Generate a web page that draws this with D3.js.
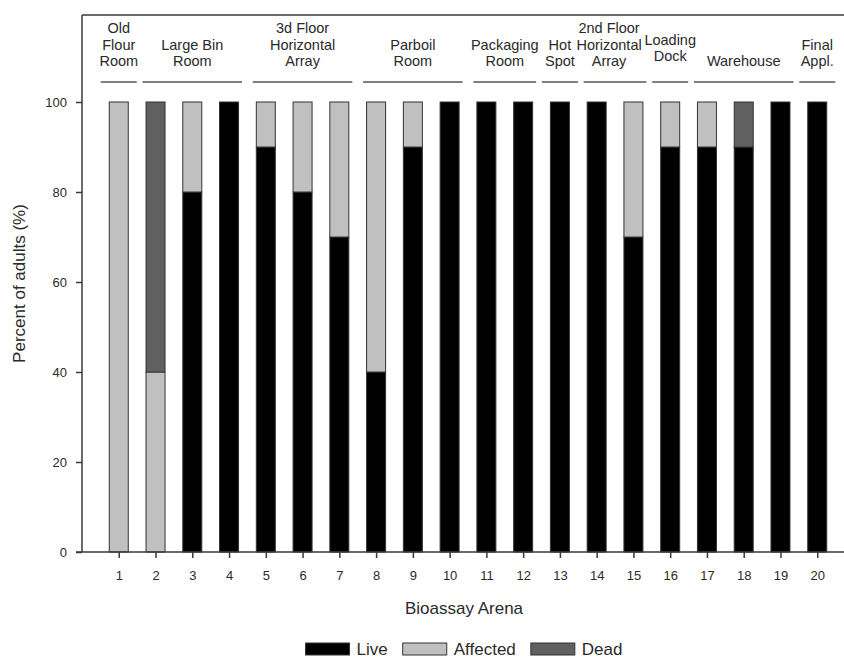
<!DOCTYPE html>
<html>
<head>
<meta charset="utf-8">
<script src="https://cdn.jsdelivr.net/npm/d3@7"></script>
<style>
  html, body { margin: 0; padding: 0; background: #fff; }
  svg { display: block; font-family: "Liberation Sans", Arial, sans-serif; }
</style>
</head>
<body>
<svg id="chart" width="844" height="660"></svg>
<script>
// Bioassay arenas and the percent of adults in each outcome class
const arenas   = [1, 2, 3, 4, 5, 6, 7, 8, 9, 10, 11, 12, 13, 14, 15, 16, 17, 18, 19, 20];
const live     = [0, 0, 80, 100, 90, 80, 70, 40, 90, 100, 100, 100, 100, 100, 70, 90, 90, 90, 100, 100];
const affected = [100, 40, 20, 0, 10, 20, 30, 60, 10, 0, 0, 0, 0, 0, 30, 10, 10, 0, 0, 0];
const dead     = [0, 60, 0, 0, 0, 0, 0, 0, 0, 0, 0, 0, 0, 0, 0, 0, 0, 10, 0, 0];

const seriesNames  = ["Live", "Affected", "Dead"];
const seriesColors = ["#000000", "#c0c0c0", "#606060"];
const yTicks = [0, 20, 40, 60, 80, 100];

// Locations in the mill, each covering a run of arenas
const groupNames = [
  ["Old", "Flour", "Room"],
  ["Large Bin", "Room"],
  ["3d Floor", "Horizontal", "Array"],
  ["Parboil", "Room"],
  ["Packaging", "Room"],
  ["Hot", "Spot"],
  ["2nd Floor", "Horizontal", "Array"],
  ["Loading", "Dock"],
  ["Warehouse"],
  ["Final", "Appl."]
];
const groupFirst = [1, 2, 5, 8, 11, 13, 14, 16, 17, 20];
const groupLast  = [1, 4, 7, 10, 12, 13, 15, 16, 19, 20];

const rows = arenas.map((a, i) => ({ arena: a, Live: live[i], Affected: affected[i], Dead: dead[i] }));

(function draw() {
  const svg = d3.select("#chart");
  const W = 844;
  const mLeft = 82, mRight = 854, frameTop = 15, plotTop = 102, plotBottom = 552;
  const axisColor = "#3a3a3a";
  const textColor = "#2a2a2a";

  const x = d3.scaleLinear().domain([0, 21]).range([mLeft, mRight]);
  const y = d3.scaleLinear().domain([0, 100]).range([plotBottom, plotTop]);
  const color = d3.scaleOrdinal().domain(seriesNames).range(seriesColors);
  const barW = 19;

  // Stacked bars
  const stacked = d3.stack().keys(seriesNames)(rows);
  svg.append("g").selectAll("g")
    .data(stacked)
    .join("g")
      .attr("fill", d => color(d.key))
    .selectAll("rect")
    .data(d => d.filter(s => s[1] - s[0] > 0))
    .join("rect")
      .attr("x", d => x(d.data.arena) - barW / 2)
      .attr("y", d => y(d[1]))
      .attr("width", barW)
      .attr("height", d => y(d[0]) - y(d[1]))
      .attr("stroke", "#333")
      .attr("stroke-width", 1);

  // Frame: left axis line, top border, bottom axis line
  svg.append("line")
    .attr("x1", mLeft).attr("x2", mLeft)
    .attr("y1", frameTop).attr("y2", plotBottom)
    .attr("stroke", axisColor).attr("stroke-width", 1.5);
  svg.append("line")
    .attr("x1", mLeft).attr("x2", W)
    .attr("y1", frameTop).attr("y2", frameTop)
    .attr("stroke", axisColor).attr("stroke-width", 1.5);
  svg.append("line")
    .attr("x1", mLeft - 6).attr("x2", W)
    .attr("y1", plotBottom).attr("y2", plotBottom)
    .attr("stroke", axisColor).attr("stroke-width", 1.5);

  // Y axis
  const yAxis = svg.append("g")
    .attr("transform", `translate(${mLeft},0)`)
    .call(d3.axisLeft(y).tickValues(yTicks).tickSize(6).tickPadding(9).tickSizeOuter(0));
  yAxis.select(".domain").remove();
  yAxis.selectAll(".tick line").attr("stroke", axisColor).attr("stroke-width", 1.5);
  yAxis.selectAll(".tick text")
    .attr("fill", textColor)
    .style("font-size", "13px")
    .style("font-family", "'Liberation Sans', Arial, sans-serif");

  // X axis
  const xAxis = svg.append("g")
    .attr("transform", `translate(0,${plotBottom})`)
    .call(d3.axisBottom(x).tickValues(arenas).tickSize(6).tickPadding(13).tickSizeOuter(0));
  xAxis.select(".domain").remove();
  xAxis.selectAll(".tick line").attr("stroke", axisColor).attr("stroke-width", 1.5);
  xAxis.selectAll(".tick text")
    .attr("fill", textColor)
    .style("font-size", "13px")
    .style("font-family", "'Liberation Sans', Arial, sans-serif");

  // Axis titles
  svg.append("text")
    .attr("x", 464).attr("y", 614)
    .attr("text-anchor", "middle")
    .attr("fill", textColor)
    .style("font-size", "17px")
    .text("Bioassay Arena");

  // Y title is centred on the full height of the left axis line
  svg.append("text")
    .attr("transform", `translate(25,${(frameTop + plotBottom) / 2}) rotate(-90)`)
    .attr("text-anchor", "middle")
    .attr("fill", textColor)
    .style("font-size", "17px")
    .text("Percent of adults (%)");

  // Location labels above the bars, each with an underline spanning its arenas
  const lineY = 82, lastBaseline = 66, lineH = 16.5;
  // small nudges so neighbouring labels do not collide
  const nudgeX = { "2nd Floor": -6 };
  const nudgeY = { "Loading": -5 };
  const groupsG = svg.append("g");
  groupNames.forEach((lines, i) => {
    const x0 = x(groupFirst[i]), x1 = x(groupLast[i]);
    const cx = (x0 + x1) / 2;
    const half = Math.max((x1 - x0) / 2 + 13, 18);
    groupsG.append("line")
      .attr("x1", cx - half).attr("x2", cx + half)
      .attr("y1", lineY).attr("y2", lineY)
      .attr("stroke", "#555").attr("stroke-width", 1.5);
    const tx = cx + (nudgeX[lines[0]] || 0);
    const ty = lastBaseline + (nudgeY[lines[0]] || 0);
    const t = groupsG.append("text")
      .attr("text-anchor", "middle")
      .attr("fill", textColor)
      .style("font-size", "14.5px");
    lines.forEach((s, k) => {
      t.append("tspan")
        .attr("x", tx)
        .attr("y", ty - (lines.length - 1 - k) * lineH)
        .text(s);
    });
  });

  // Legend
  const legend = svg.append("g");
  const swW = 44, swH = 12, legY = 655;
  let cursor = 0;
  seriesNames.forEach(name => {
    const g = legend.append("g").attr("transform", `translate(${cursor},0)`);
    g.append("rect")
      .attr("x", 0).attr("y", legY - 12)
      .attr("width", swW).attr("height", swH)
      .attr("fill", color(name))
      .attr("stroke", "#333").attr("stroke-width", 1);
    const t = g.append("text")
      .attr("x", swW + 7).attr("y", legY)
      .attr("fill", textColor)
      .style("font-size", "17px")
      .text(name);
    cursor += swW + 7 + t.node().getComputedTextLength() + 15;
  });
  const legendWidth = cursor - 15;
  legend.attr("transform", `translate(${464 - legendWidth / 2},0)`);
})();
</script>
</body>
</html>
